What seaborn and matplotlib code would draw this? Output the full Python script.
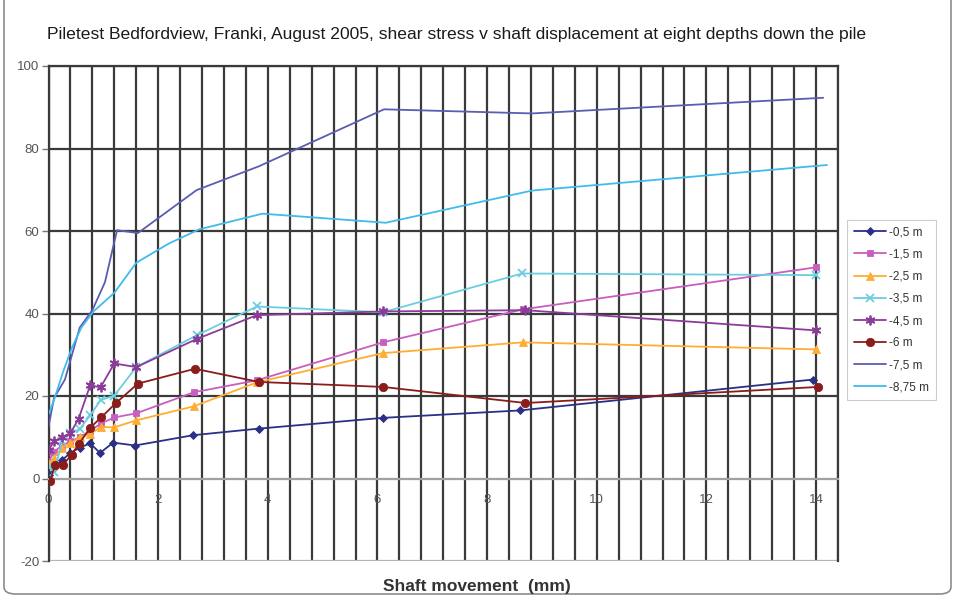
import numpy as np
import pandas as pd
import matplotlib
matplotlib.use("Agg")
import matplotlib.pyplot as plt
import seaborn as sns
from matplotlib.patches import FancyBboxPatch

# Shaft movement (mm) and mobilised shear stress (kPa) at each depth
depths = ["-0,5 m", "-1,5 m", "-2,5 m", "-3,5 m", "-4,5 m", "-6 m", "-7,5 m", "-8,75 m"]

move_05 = [0.0, 0.1, 0.25, 0.4, 0.57, 0.76, 0.94, 1.18, 1.58, 2.64, 3.84, 6.1, 8.6, 13.95]
shear_05 = [0.8, 2.5, 4.5, 6.2, 7.5, 8.5, 6.2, 8.7, 8.0, 10.5, 12.1, 14.7, 16.5, 24.0]

move_15 = [0.0, 0.1, 0.25, 0.4, 0.57, 0.76, 0.95, 1.2, 1.6, 2.65, 3.8, 6.1, 8.65, 14.0]
shear_15 = [4.0, 6.5, 8.0, 9.0, 10.0, 11.5, 13.3, 14.8, 15.8, 20.9, 23.8, 33.0, 41.0, 51.2]

move_25 = [0.0, 0.1, 0.25, 0.4, 0.57, 0.76, 0.95, 1.2, 1.6, 2.65, 3.8, 6.1, 8.65, 14.0]
shear_25 = [3.5, 5.0, 7.5, 8.5, 10.0, 10.7, 12.5, 12.4, 14.1, 17.5, 23.3, 30.4, 33.0, 31.3]

move_35 = [0.0, 0.1, 0.25, 0.4, 0.57, 0.76, 0.95, 1.2, 1.6, 2.7, 3.8, 6.1, 8.64, 14.0]
shear_35 = [3.0, 1.5, 9.0, 11.0, 12.0, 15.3, 19.0, 20.1, 27.0, 34.7, 41.7, 40.3, 49.7, 49.3]

move_45 = [0.0, 0.1, 0.25, 0.4, 0.55, 0.76, 0.95, 1.2, 1.6, 2.7, 3.8, 6.1, 8.7, 14.0]
shear_45 = [6.8, 9.0, 10.0, 11.0, 14.5, 22.6, 22.1, 27.9, 27.0, 33.8, 39.6, 40.5, 40.8, 35.9]

move_6 = [0.03, 0.12, 0.26, 0.42, 0.55, 0.76, 0.96, 1.23, 1.63, 2.67, 3.84, 6.1, 8.7, 14.04]
shear_6 = [-0.5, 3.3, 3.2, 5.8, 8.3, 12.3, 14.8, 18.3, 23.0, 26.6, 23.4, 22.2, 18.3, 22.2]

move_75 = [0.0, 0.1, 0.3, 0.45, 0.57, 0.8, 1.03, 1.25, 1.63, 2.7, 3.84, 6.12, 8.82, 14.13]
shear_75 = [12.5, 19.5, 24.0, 31.0, 36.6, 40.8, 47.6, 60.2, 59.5, 69.9, 75.7, 89.5, 88.5, 92.3]

move_875 = [0.0, 0.1, 0.27, 0.43, 0.6, 0.82, 1.2, 1.6, 2.2, 2.75, 3.9, 6.15, 8.82, 14.2]
shear_875 = [15.5, 19.0, 26.0, 31.8, 36.6, 40.5, 45.0, 52.3, 57.0, 60.4, 64.2, 62.0, 69.8, 76.0]

moves = [move_05, move_15, move_25, move_35, move_45, move_6, move_75, move_875]
shears = [shear_05, shear_15, shear_25, shear_35, shear_45, shear_6, shear_75, shear_875]

colors = ["#2b2f86", "#c95dc0", "#ffad33", "#6ccde0", "#8a3c98", "#8b1c1c", "#5a5db0", "#3fbceb"]
markers = ["D", "s", "^", "x", (6, 2, 0), "o", None, None]
msizes = [4.5, 4.5, 5.5, 5.5, 7, 6, 0, 0]

df = pd.concat(
    [pd.DataFrame({"depth": d, "movement": m, "shear": s})
     for d, m, s in zip(depths, moves, shears)],
    ignore_index=True,
)

sns.set_theme(style="white")
plt.rcParams["font.family"] = ["Liberation Sans", "DejaVu Sans"]
plt.rcParams["axes.unicode_minus"] = False

fig = plt.figure(figsize=(9.57, 5.96), dpi=100)
fig.patch.set_facecolor("white")
ax = fig.add_axes([48.5 / 957, 1 - 561 / 596, (838 - 48.5) / 957, (561 - 66) / 596])

grid_dark = "#3a3a3a"
grid_light = "#b4b4b4"

for depth, col, mk, ms in zip(depths, colors, markers, msizes):
    sub = df[df["depth"] == depth]
    kws = dict(color=col, linewidth=1.3, label=depth)
    if mk is not None:
        kws.update(marker=mk, markersize=ms, markeredgecolor=col, markerfacecolor=col,
                   markeredgewidth=1.3 if mk in ("x", (6, 2, 0)) else 0.6)
    sns.lineplot(data=sub, x="movement", y="shear", estimator=None, sort=False,
                 ax=ax, zorder=3, **kws)

ax.set_xlim(0, 14.4)
ax.set_ylim(-20, 100)
ax.set_xticks(np.arange(0, 14.1, 2))
ax.set_xticks(np.arange(0, 14.41, 0.4), minor=True)
ax.set_yticks(np.arange(-20, 101, 20))
ax.set_xticklabels([f"{v:g}" for v in np.arange(0, 14.1, 2)])

ax.grid(False)
ax.grid(True, axis="x", which="both", color=grid_dark, linewidth=1.6, zorder=1)
ax.grid(True, axis="y", which="major", color=grid_dark, linewidth=1.6, zorder=1)
ax.set_axisbelow(True)
ylines = ax.yaxis.get_gridlines()
ylines[0].set_color(grid_light)
ylines[1].set_color(grid_light)

ax.spines["bottom"].set_position(("data", 0))
ax.spines["bottom"].set_color("#a0a0a0")
ax.spines["bottom"].set_linewidth(1.5)
for side in ("left", "top", "right"):
    ax.spines[side].set_color(grid_dark)
    ax.spines[side].set_linewidth(1.6)

ax.tick_params(axis="x", which="both", length=0, pad=11, labelsize=9.5, labelcolor="#555555")
ax.tick_params(axis="y", which="major", length=5, width=1, color="#777777", pad=1.5,
               labelsize=9.5, labelcolor="#555555", left=True, direction="out")
ax.set_xlabel("")
ax.set_ylabel("")

handles, labels = ax.get_legend_handles_labels()
leg = ax.legend(handles, labels, loc="upper left", bbox_to_anchor=(1.012, 0.689),
                frameon=True, fancybox=False, edgecolor="#c0c0c0", fontsize=8.5,
                handlelength=2.7, handletextpad=0.3, labelspacing=0.86,
                borderpad=0.55, borderaxespad=0)
leg.get_frame().set_linewidth(0.8)
for t in leg.get_texts():
    t.set_color("#333333")

fig.text(47 / 957, 1 - 34 / 596,
         "Piletest Bedfordview, Franki, August 2005, shear stress v shaft displacement at eight depths down the pile",
         ha="left", va="center", fontsize=12.6, color="#1a1a1a")
fig.text(477 / 957, 1 - 587 / 596, "Shaft movement  (mm)", ha="center", va="center",
         fontsize=12.5, fontweight="bold", color="#333333")

frame = FancyBboxPatch((4 / 957, 2 / 596), 947 / 957, 1.2,
                       boxstyle="round,pad=0,rounding_size=0.012",
                       transform=fig.transFigure, fill=False, edgecolor="#8c8c8c",
                       linewidth=1.2, clip_on=False)
fig.patches.append(frame)

fig.savefig("out.png", dpi=100, facecolor="white")
